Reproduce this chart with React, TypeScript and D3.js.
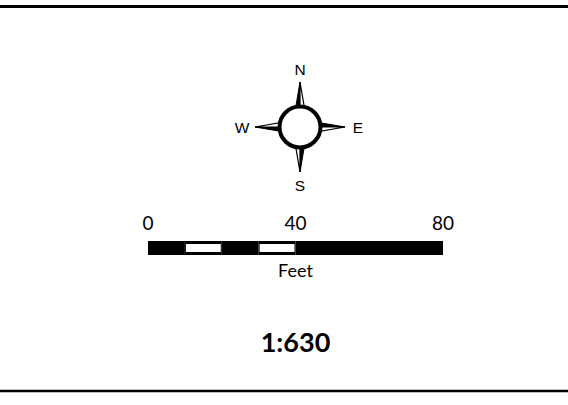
import React, { useEffect, useRef } from "react";
import * as d3 from "d3";

const W = 568;
const H = 405;

// scale bar values (feet)
const scaleTicks = [0, 40, 80];
const segmentBreaks = [0, 10, 20, 30, 40, 80];
const segmentFills = ["black", "white", "black", "white", "black"];
const unitLabel = "Feet";
const ratioLabel = "1:630";

// compass points: name and angle in degrees (0 = north, clockwise)
const directions = ["N", "E", "S", "W"];
const directionAngles = [0, 90, 180, 270];

export default function App() {
  const ref = useRef<SVGSVGElement>(null);

  useEffect(() => {
    const svg = d3.select(ref.current);
    svg.selectAll("*").remove();

    // frame lines top and bottom
    svg.append("line").attr("x1", 0).attr("x2", W).attr("y1", 6.5).attr("y2", 6.5)
      .attr("stroke", "black").attr("stroke-width", 3);
    svg.append("line").attr("x1", 0).attr("x2", W).attr("y1", 391).attr("y2", 391)
      .attr("stroke", "black").attr("stroke-width", 2.5);

    // compass
    const cx = 300, cy = 127;
    const r = 20.5;
    const arrowLen = 45;
    const half = 4.5;
    const compass = svg.append("g").attr("transform", "translate(" + cx + "," + cy + ")");

    const arrows = compass.selectAll(".arrow")
      .data(directionAngles)
      .enter().append("g")
      .attr("class", "arrow")
      .attr("transform", (d) => "rotate(" + d + ")");

    arrows.append("path")
      .attr("d", "M0," + (-arrowLen) + " L" + (-half) + "," + (-r + 2) + " L0," + (-r + 4) + " Z")
      .attr("fill", "black").attr("stroke", "black").attr("stroke-width", 1);
    arrows.append("path")
      .attr("d", "M0," + (-arrowLen) + " L" + half + "," + (-r + 2) + " L0," + (-r + 4) + " Z")
      .attr("fill", "white").attr("stroke", "black").attr("stroke-width", 1.2);

    compass.append("circle").attr("r", r).attr("fill", "white")
      .attr("stroke", "black").attr("stroke-width", 4);

    const labelR = 58;
    compass.selectAll(".dir")
      .data(directions)
      .enter().append("text")
      .attr("class", "dir")
      .attr("x", (d, i) => Math.sin(directionAngles[i] * Math.PI / 180) * labelR)
      .attr("y", (d, i) => -Math.cos(directionAngles[i] * Math.PI / 180) * labelR)
      .attr("dy", "0.36em")
      .attr("text-anchor", "middle")
      .style("font-family", "'Liberation Sans', Arial, sans-serif")
      .style("font-size", "15.5px")
      .text((d) => d);

    // scale bar
    const x = d3.scaleLinear().domain([0, 80]).range([148, 443]);
    const barTop = 241, barH = 14;
    const segs = d3.pairs(segmentBreaks);
    svg.selectAll(".seg")
      .data(segs)
      .enter().append("rect")
      .attr("class", "seg")
      .attr("x", (d) => x(d[0]))
      .attr("width", (d) => x(d[1]) - x(d[0]))
      .attr("y", barTop)
      .attr("height", barH)
      .attr("fill", "black");
    svg.selectAll(".gap")
      .data(segs.filter((d, i) => segmentFills[i] === "white"))
      .enter().append("rect")
      .attr("class", "gap")
      .attr("x", (d) => x(d[0]) + 1)
      .attr("width", (d) => x(d[1]) - x(d[0]) - 2)
      .attr("y", barTop + 3)
      .attr("height", barH - 6)
      .attr("fill", "white");

    svg.selectAll(".tick")
      .data(scaleTicks)
      .enter().append("text")
      .attr("class", "tick")
      .attr("x", (d) => x(d))
      .attr("y", 230)
      .attr("text-anchor", "middle")
      .style("font-family", "Lato, 'Open Sans', sans-serif")
      .style("font-size", "19px")
      .text((d) => d);

    svg.append("text")
      .attr("x", x(40)).attr("y", 277)
      .attr("text-anchor", "middle")
      .style("font-family", "Lato, 'Open Sans', sans-serif")
      .style("font-size", "18px")
      .text(unitLabel);

    svg.append("text")
      .attr("x", x(40)).attr("y", 352)
      .attr("text-anchor", "middle")
      .style("font-family", "Lato, 'Open Sans', sans-serif")
      .style("font-size", "27px")
      .style("font-weight", "bold")
      .text(ratioLabel);
  }, []);

  return (
    <svg ref={ref} width={W} height={H}
      style={{ position: "absolute", left: 0, top: 0, background: "white" }} />
  );
}
